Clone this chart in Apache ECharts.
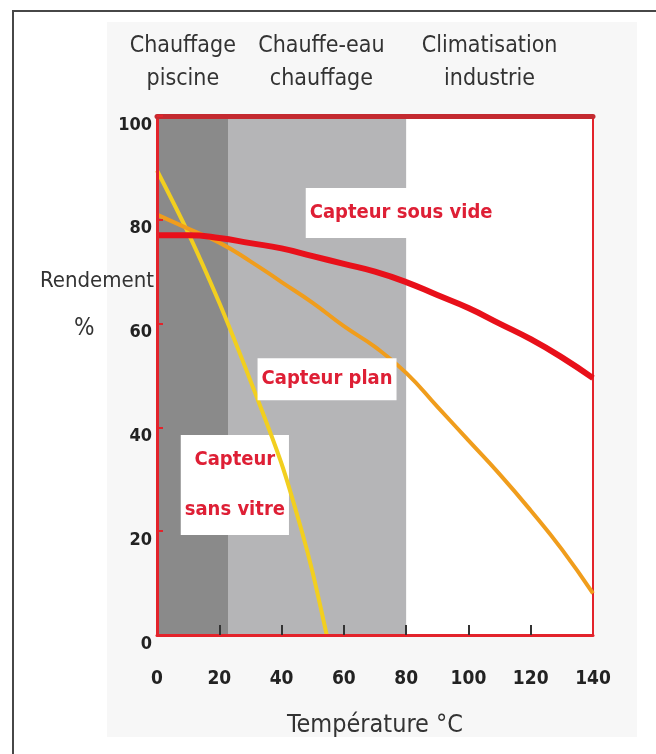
<!DOCTYPE html>
<html>
<head>
<meta charset="utf-8">
<script src="https://cdn.jsdelivr.net/npm/echarts@6/dist/echarts.min.js"></script>
<style>
  html, body { margin: 0; padding: 0; background: #fff; }
  #chart { width: 656px; height: 754px; }
</style>
</head>
<body>
<div id="chart"></div>
<script>
// Température (°C) et rendement (%)
const temps = [0, 10, 20, 30, 40, 50, 60, 70, 80, 90, 100, 110, 120, 130, 140]
const sousVide = [77, 77, 76.5, 75.5, 74.5, 73, 71.5, 70, 68, 65.5, 63, 60, 57, 53.5, 49.5]
const plan = [81, 78.3, 75.6, 72, 68, 64, 59.5, 55.5, 50.5, 44, 37.5, 31, 24, 16.5, 8]
const sansVitreTemps = [0, 10, 20, 30, 40, 46.5, 50, 54.5]
const sansVitre = [89.5, 77.5, 64, 49, 33, 20, 12, 0]

// zones d'usage
const zoneBounds = [0, 23, 80, 140]
const zoneLabels = ['Chauffage\npiscine', 'Chauffe-eau\nchauffage', 'Climatisation\nindustrie']
const zoneColors = ['#8a8a8a', '#b5b5b7', 'rgba(0,0,0,0)']

const xTicks = [0, 20, 40, 60, 80, 100, 120, 140]

const cond = "'DejaVu Sans Condensed', 'DejaVu Sans', sans-serif"
const red = '#e3232b'

const pairs = (xs, ys) => xs.map((x, i) => [x, ys[i]])

const zoneOffsets = [[-10, 0], [4, 0], [-10, 0]]
const markAreaData = zoneLabels.map((name, i) => [
  {
    name,
    xAxis: zoneBounds[i], yAxis: 100,
    itemStyle: { color: zoneColors[i] },
    label: { offset: zoneOffsets[i] }
  },
  { xAxis: zoneBounds[i + 1], yAxis: 0 }
])

const annotLabel = {
  show: true,
  position: 'inside',
  align: 'center',
  color: '#de1f35',
  fontFamily: cond,
  fontWeight: 'bold',
  fontSize: 20,
  backgroundColor: '#fff'
}

const chart = echarts.init(document.getElementById('chart'))

chart.setOption({
  animation: false,
  backgroundColor: '#fff',
  graphic: [
    { type: 'rect', z: -10, silent: true, shape: { x: 107, y: 22, width: 530, height: 715 }, style: { fill: '#f7f7f7' } },
    { type: 'line', silent: true, shape: { x1: 12, y1: 11, x2: 656, y2: 11 }, style: { stroke: '#474747', lineWidth: 2 } },
    { type: 'line', silent: true, shape: { x1: 13, y1: 11, x2: 13, y2: 754 }, style: { stroke: '#474747', lineWidth: 2 } },
    { type: 'text', silent: true, left: 40, top: 270, style: { text: 'Rendement', font: "22px 'DejaVu Sans Condensed', sans-serif", fill: '#333' } },
    { type: 'text', silent: true, left: 74, top: 317, style: { text: '%', font: "24px 'DejaVu Sans Condensed', sans-serif", fill: '#333' } }
  ],
  grid: {
    left: 157, right: 63, top: 116, bottom: 119,
    show: true, backgroundColor: '#fff', borderColor: red, borderWidth: 2
  },
  xAxis: [
    {
      type: 'value', min: 0, max: 140, interval: 20, z: 10,
      name: 'Température °C', nameLocation: 'middle', nameGap: 78,
      nameTextStyle: { fontFamily: cond, fontSize: 25, color: '#333' },
      axisLine: { show: true, lineStyle: { color: red, width: 3 } },
      axisTick: {
        show: true, inside: true, length: 10, lineStyle: { color: '#333', width: 2 },
        customValues: xTicks.slice(1, -1)
      },
      axisLabel: {
        margin: 35, fontFamily: cond, fontWeight: 'bold', fontSize: 19, color: '#222',
        formatter: v => xTicks.includes(v) ? String(v) : ''
      },
      splitLine: { show: false }
    },
    {
      type: 'value', position: 'top', min: 0, max: 140, z: 10,
      axisLine: { show: true, lineStyle: { color: '#c42a30', width: 5 } },
      axisTick: { show: false }, axisLabel: { show: false }, splitLine: { show: false }
    }
  ],
  yAxis: {
    type: 'value', min: 0, max: 100, interval: 20, z: 10,
    axisLine: { show: true, lineStyle: { color: red, width: 3 } },
    axisTick: { show: true, inside: true, length: 6, lineStyle: { color: red, width: 2 } },
    axisLabel: {
      margin: 5, fontFamily: cond, fontWeight: 'bold', fontSize: 18, color: '#222',
      verticalAlign: 'top'
    },
    splitLine: { show: false }
  },
  series: [
    {
      name: 'Capteur sans vitre',
      type: 'line',
      data: pairs(sansVitreTemps, sansVitre),
      smooth: 0.3,
      showSymbol: false,
      z: 3,
      lineStyle: { color: '#f2cf1f', width: 4 },
      markArea: {
        silent: true,
        label: {
          show: true, position: 'top', distance: 20,
          fontFamily: cond, fontSize: 23, lineHeight: 33, color: '#333', align: 'center'
        },
        data: markAreaData
      },
      markPoint: {
        z: 1,
        symbol: 'rect', symbolSize: 0,
        label: Object.assign({}, annotLabel, { lineHeight: 50, padding: [0, 4] }),
        data: [{ coord: [25, 28.9], value: 'Capteur\nsans vitre', label: { formatter: 'Capteur\nsans vitre' } }]
      }
    },
    {
      name: 'Capteur plan',
      type: 'line',
      data: pairs(temps, plan),
      smooth: true,
      showSymbol: false,
      z: 4,
      lineStyle: { color: '#f09d1c', width: 4 },
      markPoint: {
        symbol: 'rect', symbolSize: 0,
        label: Object.assign({}, annotLabel, { lineHeight: 30, padding: [6, 4] }),
        data: [{ coord: [54.6, 49.3], value: 'Capteur plan', label: { formatter: 'Capteur plan' } }]
      }
    },
    {
      name: 'Capteur sous vide',
      type: 'line',
      data: pairs(temps, sousVide),
      smooth: true,
      showSymbol: false,
      z: 5,
      lineStyle: { color: '#e8101a', width: 6 },
      markPoint: {
        symbol: 'rect', symbolSize: 0,
        label: Object.assign({}, annotLabel, { lineHeight: 30, padding: [10, 4] }),
        data: [{ coord: [78.4, 81.3], value: 'Capteur sous vide', label: { formatter: 'Capteur sous vide' } }]
      }
    }
  ]
})
</script>
</body>
</html>
